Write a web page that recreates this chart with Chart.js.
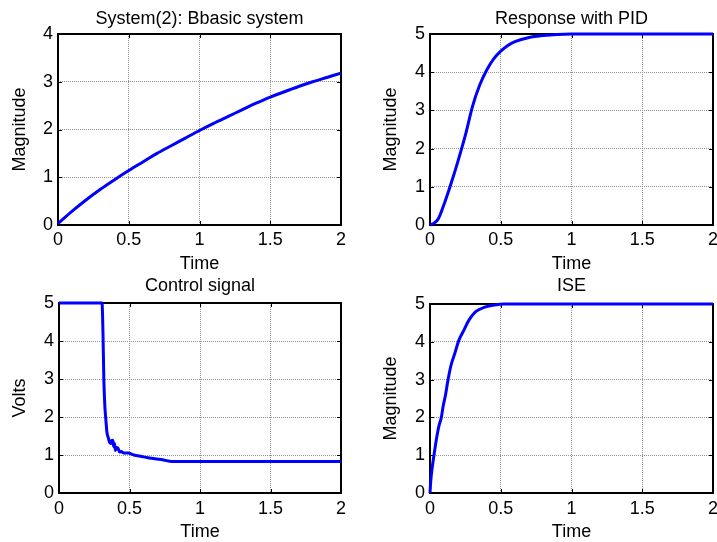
<!DOCTYPE html>
<html>
<head>
<meta charset="utf-8">
<script src="https://cdn.jsdelivr.net/npm/chart.js@4/dist/chart.umd.min.js"></script>
<style>
  html, body { margin: 0; padding: 0; background: #fff; }
  #fig { position: relative; width: 717px; height: 542px; overflow: hidden; }
  #fig canvas { position: absolute; }
</style>
</head>
<body>
<div id="fig">
  <canvas id="sysChart"></canvas>
  <canvas id="pidChart"></canvas>
  <canvas id="ctrlChart"></canvas>
  <canvas id="iseChart"></canvas>
</div>
<script>
// tick labels
const timeTicks = [0, 0.5, 1, 1.5, 2];
const ticks0to4 = [0, 1, 2, 3, 4];
const ticks0to5 = [0, 1, 2, 3, 4, 5];

// System(2): basic system (open loop)
const sysTime = [0, 0.1, 0.2, 0.3, 0.4, 0.5, 0.6, 0.7, 0.8, 0.9, 1.0, 1.1, 1.2, 1.3, 1.4, 1.5, 1.6, 1.7, 1.8, 1.9, 2.0];
const sysMag  = [0.03, 0.29, 0.53, 0.75, 0.95, 1.14, 1.32, 1.5, 1.66, 1.82, 1.98, 2.13, 2.27, 2.41, 2.55, 2.68, 2.79, 2.9, 3.0, 3.09, 3.18];

// Response with PID
const pidTime = [0, 0.03, 0.06, 0.1, 0.15, 0.2, 0.25, 0.3, 0.35, 0.4, 0.45, 0.5, 0.55, 0.6, 0.7, 0.8, 0.9, 1.0, 2.0];
const pidMag  = [0, 0.05, 0.17, 0.55, 1.1, 1.7, 2.35, 3.1, 3.65, 4.05, 4.35, 4.55, 4.7, 4.8, 4.91, 4.96, 4.99, 5, 5];

// Control signal
const ctrlTime  = [0, 0.305, 0.312, 0.318, 0.325, 0.333, 0.34, 0.35, 0.357, 0.365, 0.372, 0.382, 0.388, 0.394, 0.4, 0.407, 0.418, 0.43, 0.442, 0.46, 0.49, 0.53, 0.587, 0.63, 0.68, 0.74, 0.8, 2.0];
const ctrlVolts = [5, 5, 4.2, 3.0, 2.3, 1.9, 1.6, 1.45, 1.35, 1.3, 1.38, 1.39, 1.22, 1.3, 1.12, 1.2, 1.18, 1.08, 1.09, 1.05, 1.05, 1.0, 0.96, 0.93, 0.9, 0.87, 0.83, 0.83];

// ISE
const iseTime = [0, 0.005, 0.015, 0.028, 0.04, 0.052, 0.065, 0.08, 0.094, 0.11, 0.123, 0.146, 0.175, 0.205, 0.24, 0.276, 0.323, 0.382, 0.453, 0.52, 2.0];
const iseMag  = [0, 0.3, 0.65, 1.0, 1.3, 1.57, 1.8, 2.0, 2.32, 2.6, 2.9, 3.34, 3.69, 4.05, 4.31, 4.58, 4.8, 4.91, 4.97, 5.0, 5.0];

Chart.defaults.font.family = '"Liberation Sans", Arial, Helvetica, sans-serif';
Chart.defaults.font.size = 18;
Chart.defaults.color = '#000';

// matlab style box with inward ticks
const boxPlugin = {
  id: 'matlabBox',
  beforeDatasetsDraw(chart) {
    const { ctx, chartArea: a, scales } = chart;
    const tl = 4;
    ctx.save();
    ctx.strokeStyle = '#000';
    ctx.lineWidth = 1;
    ctx.beginPath();
    scales.x.ticks.forEach(t => {
      const px = Math.round(scales.x.getPixelForValue(t.value)) + 0.5;
      ctx.moveTo(px, a.bottom); ctx.lineTo(px, a.bottom - tl);
      ctx.moveTo(px, a.top); ctx.lineTo(px, a.top + tl);
    });
    scales.y.ticks.forEach(t => {
      const py = Math.round(scales.y.getPixelForValue(t.value)) + 0.5;
      ctx.moveTo(a.left, py); ctx.lineTo(a.left + tl, py);
      ctx.moveTo(a.right, py); ctx.lineTo(a.right - tl, py);
    });
    ctx.stroke();
    ctx.lineWidth = 2;
    ctx.strokeRect(a.left, a.top, a.right - a.left, a.bottom - a.top);
    ctx.restore();
  }
};

function makePanel(id, p) {
  const canvas = document.getElementById(id);
  canvas.width = p.w;
  canvas.height = p.h;
  canvas.style.left = p.left + 'px';
  canvas.style.top = p.top + 'px';
  const a = p.area;
  const noPad = s => { s.paddingLeft = 0; s.paddingRight = 0; s.paddingTop = 0; s.paddingBottom = 0; };

  return new Chart(canvas, {
    type: 'line',
    data: {
      datasets: [{
        data: p.xs.map((x, i) => ({ x: x, y: p.ys[i] })),
        borderColor: '#0000ff',
        borderWidth: 3,
        pointRadius: 0,
        cubicInterpolationMode: 'monotone',
        fill: false,
        clip: 4
      }]
    },
    options: {
      responsive: false,
      animation: false,
      devicePixelRatio: 1,
      layout: { padding: { left: 0, top: 0, right: p.w - a.r, bottom: 0 } },
      plugins: {
        legend: { display: false },
        tooltip: { enabled: false },
        title: {
          display: true,
          text: p.title,
          fullSize: false,
          color: '#000',
          font: { size: 18, weight: 'normal', lineHeight: 1 },
          padding: { top: p.titleMid - 9, bottom: a.t - p.titleMid - 9 }
        }
      },
      scales: {
        x: {
          type: 'linear',
          min: 0,
          max: 2,
          afterBuildTicks: s => { s.ticks = timeTicks.map(v => ({ value: v })); },
          afterFit: s => { s.height = p.h - a.b; noPad(s); },
          ticks: { padding: p.xTickPad, maxRotation: 0, autoSkip: false, callback: v => String(v) },
          grid: { color: '#939393', lineWidth: 1, drawTicks: false },
          border: { display: false, dash: [1, 1] },
          title: {
            display: true,
            text: 'Time',
            font: { size: 18, lineHeight: 1 },
            padding: { top: 0, bottom: p.h - p.xTitleMid - 9 }
          }
        },
        y: {
          type: 'linear',
          min: 0,
          max: p.yTicks[p.yTicks.length - 1],
          afterBuildTicks: s => { s.ticks = p.yTicks.map(v => ({ value: v })); },
          afterFit: s => { s.width = a.l; noPad(s); },
          ticks: { padding: 5, autoSkip: false, callback: v => String(v) },
          grid: { color: '#939393', lineWidth: 1, drawTicks: false },
          border: { display: false, dash: [1, 1] },
          title: {
            display: true,
            text: p.yLabel,
            font: { size: 18, lineHeight: 1 },
            padding: { top: p.yTitleMid - 9, bottom: 0 }
          }
        }
      }
    },
    plugins: [boxPlugin]
  });
}

makePanel('sysChart', {
  left: 0, top: 0, w: 358, h: 285,
  area: { l: 58, t: 34, r: 341, b: 225 },
  titleMid: 19, yTitleMid: 20, xTitleMid: 264, xTickPad: 4,
  title: 'System(2): Bbasic system', yLabel: 'Magnitude',
  xs: sysTime, ys: sysMag, yTicks: ticks0to4
});

makePanel('pidChart', {
  left: 358, top: 0, w: 359, h: 285,
  area: { l: 72, t: 34, r: 355, b: 225 },
  titleMid: 19, yTitleMid: 33.5, xTitleMid: 264, xTickPad: 4,
  title: 'Response with PID', yLabel: 'Magnitude',
  xs: pidTime, ys: pidMag, yTicks: ticks0to5
});

makePanel('ctrlChart', {
  left: 0, top: 270, w: 358, h: 272,
  area: { l: 59, t: 33, r: 341, b: 223 },
  titleMid: 16.5, yTitleMid: 20, xTitleMid: 262, xTickPad: 5,
  title: 'Control signal', yLabel: 'Volts',
  xs: ctrlTime, ys: ctrlVolts, yTicks: ticks0to5
});

makePanel('iseChart', {
  left: 358, top: 270, w: 359, h: 272,
  area: { l: 72, t: 34, r: 355, b: 223 },
  titleMid: 16.5, yTitleMid: 33.5, xTitleMid: 262, xTickPad: 5,
  title: 'ISE', yLabel: 'Magnitude',
  xs: iseTime, ys: iseMag, yTicks: ticks0to5
});
</script>
</body>
</html>
